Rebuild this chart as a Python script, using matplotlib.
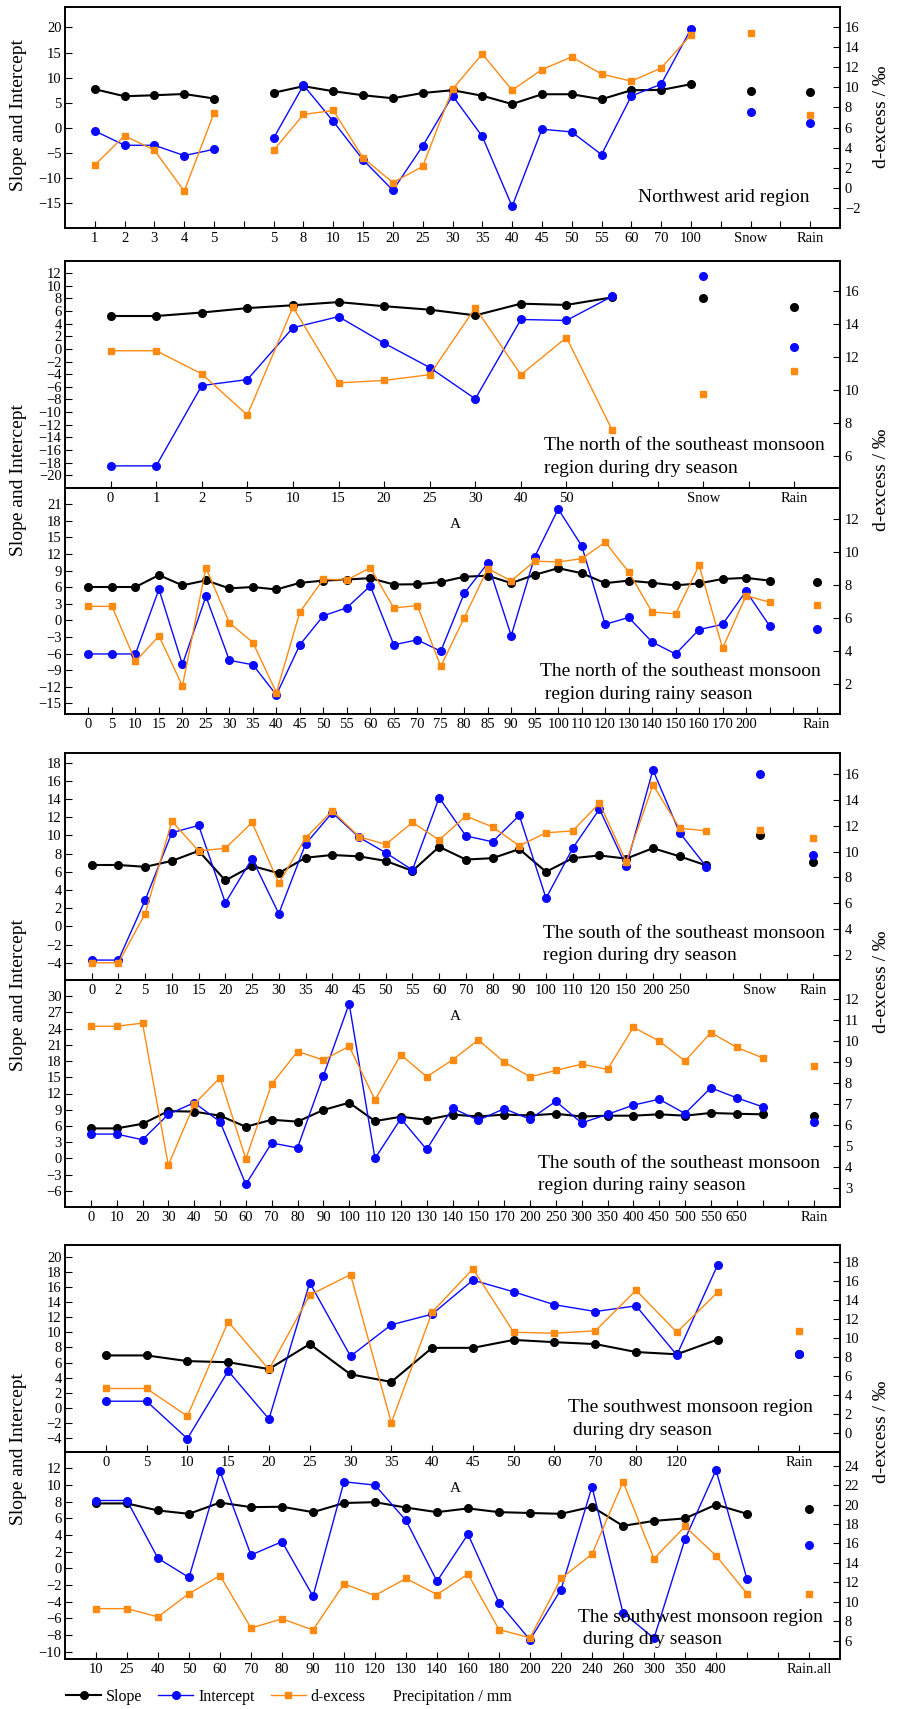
import matplotlib.pyplot as plt
from matplotlib.lines import Line2D
import numpy as np

nan = np.nan

# Panel 1: Northwest arid region
labels1 = ['1', '2', '3', '4', '5', '', '5', '8', '10', '15', '20', '25', '30', '35', '40',
           '45', '50', '55', '60', '70', '100', '', 'Snow', '', 'Rain']
slope1 = [7.7, 6.3, 6.5, 6.75, 5.85, nan, 7.0, 8.3, 7.3, 6.5, 5.9, 6.95, 7.5, 6.4, 4.75,
          6.7, 6.7, 5.7, 7.5, 7.55, 8.7, nan, 7.4, nan, 7.1]
icpt1 = [-0.6, -3.45, -3.45, -5.5, -4.25, nan, -2.0, 8.5, 1.3, -6.35, -12.4, -3.6, 6.4, -1.7, -15.6,
         -0.25, -0.8, -5.3, 6.35, 8.7, 19.7, nan, 3.2, nan, 0.95]
dex1 = [2.3, 5.2, 3.75, -0.3, 7.45, nan, 3.75, 7.3, 7.7, 3.0, 0.55, 2.15, 9.8, 13.3, 9.7,
        11.75, 13.0, 11.3, 10.6, 11.9, 15.2, nan, 15.4, nan, 7.2]

# Panel 2: north of southeast monsoon region, dry season
labels2 = ['0', '1', '2', '5', '10', '15', '20', '25', '30', '40', '50', '', '', 'Snow', '', 'Rain']
slope2 = [5.2, 5.2, 5.75, 6.45, 6.9, 7.4, 6.75, 6.2, 5.3, 7.15, 6.95, 8.15, nan, 8.05, nan, 6.7]
icpt2 = [-18.5, -18.5, -5.8, -4.85, 3.35, 5.1, 0.9, -2.95, -7.9, 4.65, 4.5, 8.3, nan, 11.5, nan, 0.25]
dex2 = [12.4, 12.4, 11.0, 8.5, 15.05, 10.45, 10.6, 10.95, 15.0, 10.95, 13.2, 7.6, nan, 9.75, nan, 11.2]

# Panel 3: north of southeast monsoon region, rainy season
labels3 = ['0', '5', '10', '15', '20', '25', '30', '35', '40', '45', '50', '55', '60', '65', '70',
           '75', '80', '85', '90', '95', '100', '110', '120', '130', '140', '150', '160', '170',
           '200', '', '', 'Rain']
slope3 = [6.05, 6.05, 6.05, 8.2, 6.35, 7.25, 5.8, 6.05, 5.6, 6.8, 7.2, 7.4, 7.65, 6.5, 6.55,
          6.95, 7.9, 8.1, 6.75, 8.25, 9.45, 8.55, 6.75, 7.2, 6.8, 6.35, 6.7, 7.5, 7.7, 7.2, nan, 7.0]
icpt3 = [-6.05, -6.05, -6.05, 5.65, -7.95, 4.35, -7.2, -8.0, -13.45, -4.4, 0.85, 2.3, 6.25, -4.4, -3.5,
         -5.55, 4.9, 10.35, -2.75, 11.5, 20.15, 13.5, -0.7, 0.55, -3.9, -6.05, -1.65, -0.7, 5.3, -0.95,
         nan, -1.5]
dex3 = [6.7, 6.7, 3.35, 4.9, 1.85, 9.05, 5.7, 4.5, 1.45, 6.35, 8.35, 8.3, 9.05, 6.6, 6.75,
        3.05, 6.0, 9.0, 8.25, 9.45, 9.4, 9.6, 10.6, 8.8, 6.35, 6.25, 9.2, 4.15, 7.35, 6.95, nan, 6.8]

# Panel 4: south of southeast monsoon region, dry season
labels4 = ['0', '2', '5', '10', '15', '20', '25', '30', '35', '40', '45', '50', '55', '60', '70',
           '80', '90', '100', '110', '120', '150', '200', '250', '', '', 'Snow', '', 'Rain']
slope4 = [6.75, 6.75, 6.55, 7.2, 8.3, 5.05, 6.65, 5.85, 7.55, 7.85, 7.7, 7.2, 6.1, 8.75, 7.35,
          7.5, 8.5, 6.0, 7.5, 7.8, 7.45, 8.6, 7.7, 6.7, nan, 10.05, nan, 7.1]
icpt4 = [-3.7, -3.7, 2.9, 10.3, 11.1, 2.6, 7.45, 1.4, 9.05, 12.5, 9.8, 8.1, 6.2, 14.15, 9.95,
         9.3, 12.2, 3.1, 8.6, 12.9, 6.6, 17.2, 10.3, 6.55, nan, 16.75, nan, 7.9]
dex4 = [1.4, 1.4, 5.2, 12.35, 10.05, 10.25, 12.25, 7.55, 11.05, 13.15, 11.15, 10.55, 12.25, 10.9, 12.75,
        11.9, 10.45, 11.45, 11.6, 13.75, 9.2, 15.15, 11.8, 11.6, nan, 11.65, nan, 11.05]

# Panel 5: south of southeast monsoon region, rainy season
labels5 = ['0', '10', '20', '30', '40', '50', '60', '70', '80', '90', '100', '110', '120', '130',
           '140', '150', '170', '200', '250', '300', '350', '400', '450', '500', '550', '650',
           '', '', 'Rain']
slope5 = [5.55, 5.55, 6.4, 8.75, 8.65, 7.9, 5.85, 7.15, 6.8, 8.95, 10.3, 6.9, 7.7, 7.15,
          8.1, 7.75, 8.1, 7.95, 8.25, 7.75, 7.9, 7.9, 8.15, 7.9, 8.4, 8.25, 8.15, nan, 7.85]
icpt5 = [4.5, 4.5, 3.45, 8.15, 10.3, 6.8, -4.8, 2.85, 1.95, 15.25, 28.6, 0.0, 7.35, 1.65,
         9.3, 7.05, 9.2, 7.25, 10.55, 6.55, 8.15, 9.85, 10.95, 8.3, 13.05, 11.2, 9.55, nan, 6.8]
dex5 = [10.7, 10.7, 10.85, 4.1, 7.0, 8.25, 4.4, 7.95, 9.5, 9.1, 9.75, 7.2, 9.35, 8.3,
        9.1, 10.05, 9.0, 8.3, 8.6, 8.9, 8.65, 10.65, 10.0, 9.05, 10.4, 9.7, 9.2, nan, 8.8]

# Panel 6: southwest monsoon region, dry season
labels6 = ['0', '5', '10', '15', '20', '25', '30', '35', '40', '45', '50', '60', '70', '80', '120',
           '', '', 'Rain']
slope6 = [6.95, 6.95, 6.2, 6.05, 5.15, 8.45, 4.45, 3.45, 7.95, 7.95, 9.0, 8.7, 8.45, 7.4, 7.1, 9.05,
          nan, 7.15]
icpt6 = [0.9, 0.9, -4.05, 4.9, -1.45, 16.55, 6.85, 11.0, 12.4, 16.9, 15.35, 13.65, 12.75, 13.5, 7.0, 18.9,
         nan, 7.2]
dex6 = [4.7, 4.7, 1.8, 11.7, 6.7, 14.5, 16.65, 1.1, 12.7, 17.25, 10.6, 10.5, 10.75, 15.0, 10.6, 14.8,
        nan, 10.75]

# Panel 7: southwest monsoon region (second panel)
labels7 = ['10', '25', '40', '50', '60', '70', '80', '90', '110', '120', '130', '140', '160', '180',
           '200', '220', '240', '260', '300', '350', '400', '', '', 'Rain.all']
slope7 = [7.8, 7.8, 6.95, 6.55, 7.9, 7.35, 7.4, 6.75, 7.85, 7.95, 7.3, 6.75, 7.2, 6.75,
          6.65, 6.55, 7.4, 5.1, 5.7, 6.0, 7.65, 6.55, nan, 7.1]
icpt7 = [8.15, 8.15, 1.2, -1.1, 11.65, 1.6, 3.2, -3.35, 10.4, 10.0, 5.75, -1.55, 4.1, -4.15,
         -8.6, -2.55, 9.8, -5.35, -8.4, 3.5, 11.8, -1.3, nan, 2.75]
dex7 = [9.3, 9.3, 8.45, 10.85, 12.7, 7.3, 8.25, 7.1, 11.85, 10.65, 12.4, 10.75, 12.85, 7.15,
        6.3, 12.4, 14.9, 22.35, 14.45, 17.75, 14.75, 10.85, nan, 10.85]

notes = [
    ['Northwest arid region'],
    ['The north of the southeast monsoon', 'region during dry season'],
    ['The north of the southeast monsoon', ' region during rainy season'],
    ['The south of the southeast monsoon', 'region during dry season'],
    ['The south of the southeast monsoon', 'region during rainy season'],
    ['The southwest monsoon region', ' during dry season'],
    ['The southwest monsoon region', ' during dry season'],
]

SERIF = ['Liberation Serif', 'DejaVu Serif']
plt.rcParams['font.family'] = SERIF

W, H = 901, 1709
fig = plt.figure(figsize=(W / 100, H / 100), dpi=100)

BLUE = '#0a0aff'
ORANGE = '#ff8a12'
TICK_FS = 10.5


def add_panel(top, bottom, labels, slope, icpt, dex, ylim_l, yt_l, ylim_r, yt_r,
              note, note_pos, xlabel_y=None):
    ax = fig.add_axes([65 / W, 1 - bottom / H, 775 / W, (bottom - top) / H])
    ax.patch.set_visible(False)   # let the panel above show its tick labels through
    x = np.arange(len(labels))
    ax.plot(x, slope, '-o', color='black', lw=1.5, ms=5.5, zorder=3)
    ax.plot(x, icpt, '-o', color=BLUE, lw=1.0, ms=5.5, zorder=4)
    ax.set_xlim(-1, len(labels))
    ax.set_ylim(*ylim_l)
    ax.set_yticks(yt_l)
    ax.set_xticks(x)
    ax.set_xticklabels(labels)
    ax.tick_params(axis='x', direction='in', length=5, pad=3, labelsize=TICK_FS)
    ax.tick_params(axis='y', direction='in', length=5, pad=2.5, labelsize=TICK_FS)

    ax2 = ax.twinx()
    ax2.plot(x, dex, '-s', color=ORANGE, lw=1.0, ms=5, zorder=3)
    ax2.set_ylim(*ylim_r)
    ax2.set_yticks(yt_r)
    ax2.tick_params(axis='y', direction='in', length=5, pad=3.5, labelsize=TICK_FS)
    for a in (ax, ax2):
        for s in a.spines.values():
            s.set_linewidth(1.2)

    nx, ny = note_pos
    for i, line in enumerate(note):
        fig.text(nx / W, 1 - (ny + i * 22.5) / H, line, fontsize=14, va='center', ha='left')
    if xlabel_y is not None:
        fig.text(455 / W, 1 - xlabel_y / H, 'A', fontsize=11, ha='center', va='center')
    return ax


add_panel(7, 228, labels1, slope1, icpt1, dex1, (-19.9, 24.05), np.arange(-15, 21, 5),
          (-3.95, 17.95), np.arange(-2, 17, 2), notes[0], (638, 197))
add_panel(261, 488, labels2, slope2, icpt2, dex2, (-22, 13.9), np.arange(-20, 13, 2),
          (4.08, 17.84), np.arange(6, 17, 2), notes[1], (544, 446), xlabel_y=525)
add_panel(488, 714, labels3, slope3, icpt3, dex3, (-16.9, 23.94), np.arange(-15, 22, 3),
          (0.15, 13.9), np.arange(2, 13, 2), notes[2], (540, 672))
add_panel(753, 980, labels4, slope4, icpt4, dex4, (-5.89, 19.06), np.arange(-4, 19, 2),
          (0.07, 17.62), np.arange(2, 17, 2), notes[3], (543, 933), xlabel_y=1017)
add_panel(980, 1207, labels5, slope5, icpt5, dex5, (-8.98, 32.98), np.arange(-6, 31, 3),
          (2.11, 12.9), np.arange(3, 13, 1), notes[4], (538, 1163))
add_panel(1245, 1452, labels6, slope6, icpt6, dex6, (-5.81, 21.54), np.arange(-4, 21, 2),
          (-1.96, 19.75), np.arange(0, 19, 2), notes[5], (568, 1408), xlabel_y=1489)
add_panel(1452, 1659, labels7, slope7, icpt7, dex7, (-10.9, 13.98), np.arange(-10, 13, 2),
          (4.12, 25.41), np.arange(6, 25, 2), notes[6], (578, 1617))

# y-axis labels shared by each pair
for yc in (115, 480, 995, 1449):
    fig.text(19 / W, 1 - yc / H, 'Slope and Intercept', rotation=90, fontsize=14,
             ha='center', va='center')
for yc in (117, 480, 982, 1432):
    fig.text(881 / W, 1 - yc / H, 'd-excess / \u2030', rotation=90, fontsize=14,
             ha='center', va='center')

# legend
handles = [
    Line2D([], [], color='black', marker='o', lw=1.5, ms=5.5),
    Line2D([], [], color=BLUE, marker='o', lw=1.0, ms=5.5),
    Line2D([], [], color=ORANGE, marker='s', lw=1.0, ms=5),
]
fig.legend(handles, ['Slope', 'Intercept', 'd-excess'], loc='center left',
           bbox_to_anchor=(66 / W, 1 - 1697 / H), ncol=3, frameon=False,
           fontsize=11.5, handlelength=2.2, handletextpad=0.3, columnspacing=1.0,
           borderpad=0, borderaxespad=0)
fig.text(393 / W, 1 - 1697 / H, 'Precipitation / mm', fontsize=11.5, va='center', ha='left')

fig.savefig('out.png', dpi=100)
